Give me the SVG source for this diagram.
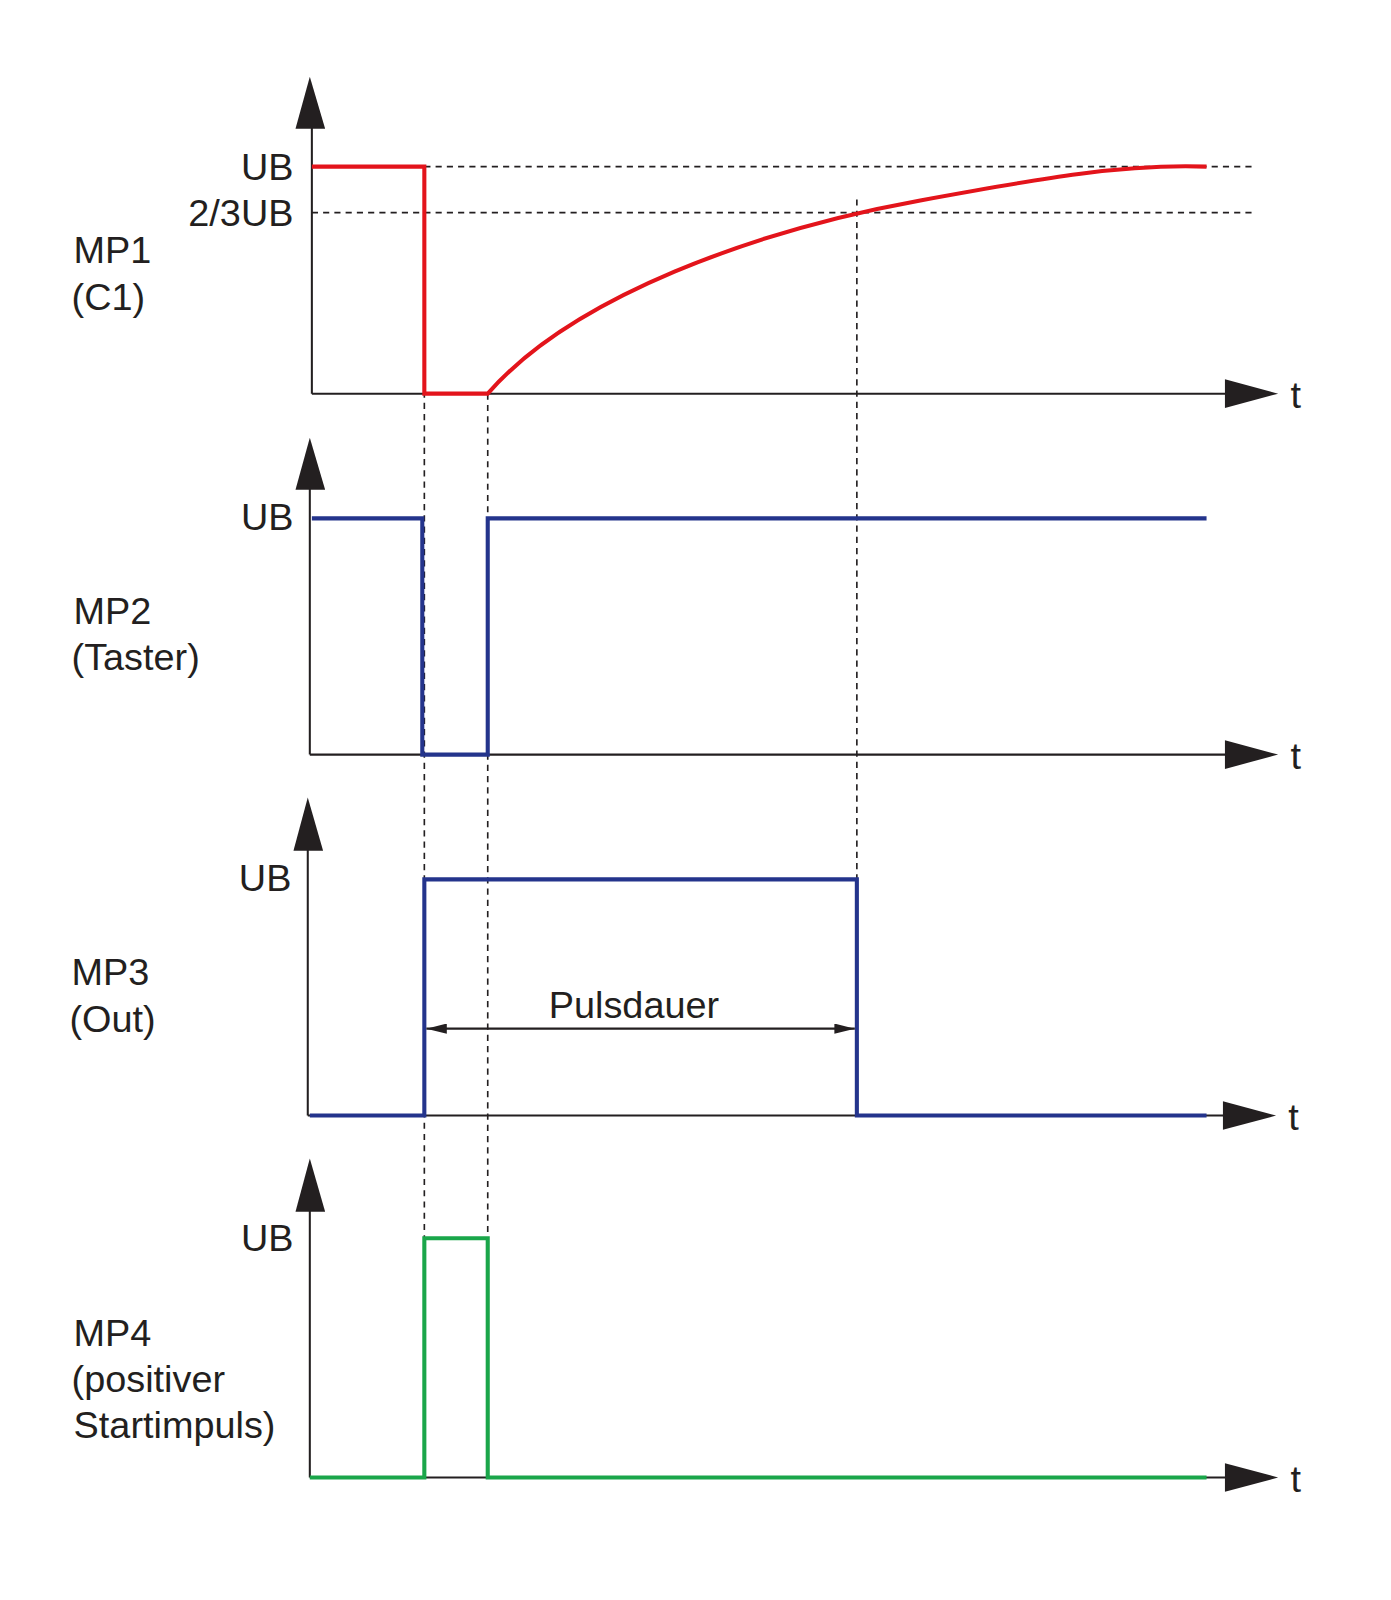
<svg xmlns="http://www.w3.org/2000/svg" width="1391" height="1600" viewBox="0 0 1391 1600">
<style>
text{font-family:"Liberation Sans",Arial,sans-serif;font-size:37px;fill:#231f20}
.ax{stroke:#231f20;stroke-width:2;fill:none}
.ah{fill:#231f20}
.d{stroke:#231f20;stroke-width:1.6;stroke-dasharray:6,5;fill:none}
.r{stroke:#e3141b;stroke-width:4;fill:none}
.b{stroke:#24348c;stroke-width:4;fill:none}
.g{stroke:#1aa64a;stroke-width:4;fill:none}
</style>
<rect width="1391" height="1600" fill="#fff"/>
<defs><marker id="sm" markerWidth="20" markerHeight="10" refX="20" refY="5" orient="auto-start-reverse" markerUnits="userSpaceOnUse"><path d="M0,0 L20,5 L0,10 Z" fill="#231f20"/></marker></defs>
<g transform="scale(1.0225)">
<g id="guides">
<line class="d" x1="305" y1="163" x2="1225" y2="163"/>
<line class="d" x1="305" y1="208" x2="1225" y2="208"/>
<line class="d" x1="415" y1="163" x2="415" y2="1445"/>
<line class="d" x1="477" y1="385" x2="477" y2="1445"/>
<line class="d" x1="838" y1="195" x2="838" y2="860"/>
</g>
<g id="axes">
<line class="ax" x1="305" y1="110" x2="305" y2="385"/><line class="ax" x1="305" y1="385" x2="1210" y2="385"/>
<path class="ah" d="M303,75 L289,126 L318,126 Z"/><path class="ah" d="M1250,385 L1198,371 L1198,399 Z"/>
<line class="ax" x1="303" y1="460" x2="303" y2="738"/><line class="ax" x1="303" y1="738" x2="1210" y2="738"/>
<path class="ah" d="M303,428 L289,479 L318,479 Z"/><path class="ah" d="M1250,738 L1198,724 L1198,752 Z"/>
<line class="ax" x1="301" y1="815" x2="301" y2="1091"/><line class="ax" x1="301" y1="1091" x2="1210" y2="1091"/>
<path class="ah" d="M301,780 L287,832 L316,832 Z"/><path class="ah" d="M1248,1091 L1196,1077 L1196,1105 Z"/>
<line class="ax" x1="303" y1="1165" x2="303" y2="1445"/><line class="ax" x1="303" y1="1445" x2="1210" y2="1445"/>
<path class="ah" d="M303,1133 L289,1185 L318,1185 Z"/><path class="ah" d="M1250,1445 L1198,1431 L1198,1459 Z"/>
</g>
<g id="signals">
<path class="r" d="M305,163 H415 V385 H477 C560,290 740,225 900,196 C1020,174 1100,160 1180,163"/>
<path class="b" d="M305,507 H413 V738 H477 V507 H1180"/>
<path class="b" d="M303,1091 H415 V860 H838 V1091 H1180"/>
<path class="g" d="M303,1445 H415 V1211 H477 V1445 H1180"/>
<line x1="417" y1="1006" x2="836" y2="1006" stroke="#231f20" stroke-width="2" marker-start="url(#sm)" marker-end="url(#sm)"/>
</g>
<g id="labels">
<text x="287" y="166" text-anchor="end" dominant-baseline="middle">UB</text>
<text x="287" y="211" text-anchor="end" dominant-baseline="middle">2/3UB</text>
<text x="287" y="509" text-anchor="end" dominant-baseline="middle">UB</text>
<text x="285" y="862" text-anchor="end" dominant-baseline="middle">UB</text>
<text x="287" y="1214" text-anchor="end" dominant-baseline="middle">UB</text>
<text x="72" y="257">MP1</text><text x="70" y="303">(C1)</text>
<text x="72" y="610">MP2</text><text x="70" y="655">(Taster)</text>
<text x="70" y="963">MP3</text><text x="68" y="1009">(Out)</text>
<text x="72" y="1316">MP4</text><text x="70" y="1361">(positiver</text><text x="72" y="1406">Startimpuls)</text>
<text x="620" y="996" text-anchor="middle">Pulsdauer</text>
<text x="1262" y="399">t</text><text x="1262" y="752">t</text><text x="1260" y="1105">t</text><text x="1262" y="1459">t</text>
</g>
</g>
</svg>
